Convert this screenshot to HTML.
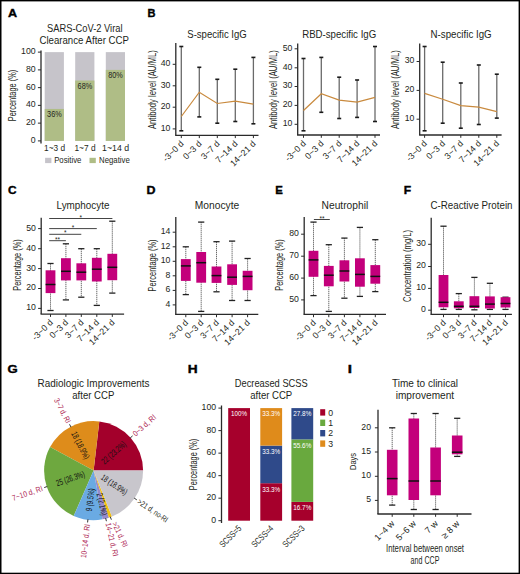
<!DOCTYPE html>
<html><head><meta charset="utf-8"><style>
html,body{margin:0;padding:0;background:#fff;}
svg{display:block;font-family:"Liberation Sans", sans-serif;}
</style></head><body>
<svg width="520" height="574" viewBox="0 0 520 574">
<rect x="0" y="0" width="520" height="574" fill="#fff"/>
<text x="8.00" y="16.90" font-size="10.8" fill="#000" font-weight="bold" textLength="9.1" lengthAdjust="spacingAndGlyphs" stroke="#000" stroke-width="0.35">A</text>
<text x="147.40" y="16.90" font-size="10.8" fill="#000" font-weight="bold" textLength="8" lengthAdjust="spacingAndGlyphs" stroke="#000" stroke-width="0.35">B</text>
<text x="8.10" y="193.80" font-size="10.8" fill="#000" font-weight="bold" textLength="8.6" lengthAdjust="spacingAndGlyphs" stroke="#000" stroke-width="0.35">C</text>
<text x="146.50" y="193.80" font-size="10.8" fill="#000" font-weight="bold" textLength="9" lengthAdjust="spacingAndGlyphs" stroke="#000" stroke-width="0.35">D</text>
<text x="275.30" y="193.80" font-size="10.8" fill="#000" font-weight="bold" textLength="7.6" lengthAdjust="spacingAndGlyphs" stroke="#000" stroke-width="0.35">E</text>
<text x="403.80" y="193.80" font-size="10.8" fill="#000" font-weight="bold" textLength="7.4" lengthAdjust="spacingAndGlyphs" stroke="#000" stroke-width="0.35">F</text>
<text x="7.60" y="372.90" font-size="10.8" fill="#000" font-weight="bold" textLength="10.2" lengthAdjust="spacingAndGlyphs" stroke="#000" stroke-width="0.35">G</text>
<text x="187.80" y="372.90" font-size="10.8" fill="#000" font-weight="bold" textLength="9.9" lengthAdjust="spacingAndGlyphs" stroke="#000" stroke-width="0.35">H</text>
<text x="347.70" y="372.90" font-size="10.8" fill="#000" font-weight="bold" textLength="4.2" lengthAdjust="spacingAndGlyphs" stroke="#000" stroke-width="0.35">I</text>
<text x="84.80" y="31.80" font-size="10.5" fill="#231f20" text-anchor="middle" textLength="75.5" lengthAdjust="spacingAndGlyphs" >SARS-CoV-2 Viral</text>
<text x="84.20" y="44.00" font-size="10.5" fill="#231f20" text-anchor="middle" textLength="89.5" lengthAdjust="spacingAndGlyphs" >Clearance After CCP</text>
<line x1="41.00" y1="50.50" x2="41.00" y2="143.50" stroke="#2a2a2a" stroke-width="1.3" />
<line x1="37.90" y1="140.90" x2="41.00" y2="140.90" stroke="#2a2a2a" stroke-width="1" />
<text x="35.60" y="142.80" font-size="8.7" fill="#231f20" text-anchor="end" >0</text>
<line x1="37.90" y1="123.14" x2="41.00" y2="123.14" stroke="#2a2a2a" stroke-width="1" />
<text x="35.60" y="125.04" font-size="8.7" fill="#231f20" text-anchor="end" >20</text>
<line x1="37.90" y1="105.39" x2="41.00" y2="105.39" stroke="#2a2a2a" stroke-width="1" />
<text x="35.60" y="107.29" font-size="8.7" fill="#231f20" text-anchor="end" >40</text>
<line x1="37.90" y1="87.63" x2="41.00" y2="87.63" stroke="#2a2a2a" stroke-width="1" />
<text x="35.60" y="89.53" font-size="8.7" fill="#231f20" text-anchor="end" >60</text>
<line x1="37.90" y1="69.88" x2="41.00" y2="69.88" stroke="#2a2a2a" stroke-width="1" />
<text x="35.60" y="71.78" font-size="8.7" fill="#231f20" text-anchor="end" >80</text>
<line x1="37.90" y1="52.12" x2="41.00" y2="52.12" stroke="#2a2a2a" stroke-width="1" />
<text x="35.60" y="54.02" font-size="8.7" fill="#231f20" text-anchor="end" >100</text>
<text x="16.00" y="95.50" font-size="10" fill="#231f20" text-anchor="middle" transform="rotate(-90.00 16.00 95.50)" textLength="51.5" lengthAdjust="spacingAndGlyphs" >Percentage (%)</text>
<rect x="44.70" y="52.12" width="19.20" height="88.78" fill="#c6c4ca"/>
<rect x="44.70" y="108.94" width="19.20" height="31.96" fill="#afbd86"/>
<text x="54.40" y="117.04" font-size="9.2" fill="#231f20" text-anchor="middle" textLength="14.6" lengthAdjust="spacingAndGlyphs" >36%</text>
<rect x="75.20" y="52.12" width="19.20" height="88.78" fill="#c6c4ca"/>
<rect x="75.20" y="80.53" width="19.20" height="60.37" fill="#afbd86"/>
<text x="84.90" y="88.63" font-size="9.2" fill="#231f20" text-anchor="middle" textLength="14.6" lengthAdjust="spacingAndGlyphs" >68%</text>
<rect x="105.80" y="52.12" width="19.20" height="88.78" fill="#c6c4ca"/>
<rect x="105.80" y="69.88" width="19.20" height="71.02" fill="#afbd86"/>
<text x="115.50" y="77.98" font-size="9.2" fill="#231f20" text-anchor="middle" textLength="14.6" lengthAdjust="spacingAndGlyphs" >80%</text>
<text x="54.60" y="151.00" font-size="9" fill="#231f20" text-anchor="middle" textLength="21" lengthAdjust="spacingAndGlyphs" >1~3 d</text>
<text x="85.00" y="151.00" font-size="9" fill="#231f20" text-anchor="middle" textLength="21" lengthAdjust="spacingAndGlyphs" >1~7 d</text>
<text x="115.60" y="151.00" font-size="9" fill="#231f20" text-anchor="middle" textLength="27" lengthAdjust="spacingAndGlyphs" >1~14 d</text>
<rect x="45.10" y="157.80" width="6.30" height="5.30" fill="#c6c4ca"/>
<text x="54.20" y="163.40" font-size="8.6" fill="#231f20" textLength="27.2" lengthAdjust="spacingAndGlyphs" >Positive</text>
<rect x="89.50" y="157.80" width="6.30" height="5.30" fill="#afbd86"/>
<text x="99.00" y="163.40" font-size="8.6" fill="#231f20" textLength="30.8" lengthAdjust="spacingAndGlyphs" >Negative</text>
<text x="217.00" y="37.60" font-size="10.5" fill="#231f20" text-anchor="middle" textLength="59.5" lengthAdjust="spacingAndGlyphs" >S-specific IgG</text>
<line x1="175.80" y1="43.10" x2="175.80" y2="135.30" stroke="#2a2a2a" stroke-width="1.3" />
<line x1="175.15" y1="135.30" x2="258.50" y2="135.30" stroke="#2a2a2a" stroke-width="1.3" />
<line x1="172.70" y1="64.30" x2="175.80" y2="64.30" stroke="#2a2a2a" stroke-width="1" />
<text x="170.40" y="66.20" font-size="8.7" fill="#231f20" text-anchor="end" >40</text>
<line x1="172.70" y1="85.80" x2="175.80" y2="85.80" stroke="#2a2a2a" stroke-width="1" />
<text x="170.40" y="87.70" font-size="8.7" fill="#231f20" text-anchor="end" >30</text>
<line x1="172.70" y1="107.20" x2="175.80" y2="107.20" stroke="#2a2a2a" stroke-width="1" />
<text x="170.40" y="109.10" font-size="8.7" fill="#231f20" text-anchor="end" >20</text>
<line x1="172.70" y1="128.90" x2="175.80" y2="128.90" stroke="#2a2a2a" stroke-width="1" />
<text x="170.40" y="130.80" font-size="8.7" fill="#231f20" text-anchor="end" >10</text>
<text x="155.60" y="89.60" font-size="10" fill="#231f20" text-anchor="middle" transform="rotate(-90.00 155.60 89.60)" textLength="79" lengthAdjust="spacingAndGlyphs" >Antibody level (AU/ML)</text>
<line x1="181.30" y1="135.30" x2="181.30" y2="138.10" stroke="#2a2a2a" stroke-width="1" />
<line x1="199.30" y1="135.30" x2="199.30" y2="138.10" stroke="#2a2a2a" stroke-width="1" />
<line x1="217.30" y1="135.30" x2="217.30" y2="138.10" stroke="#2a2a2a" stroke-width="1" />
<line x1="235.30" y1="135.30" x2="235.30" y2="138.10" stroke="#2a2a2a" stroke-width="1" />
<line x1="253.40" y1="135.30" x2="253.40" y2="138.10" stroke="#2a2a2a" stroke-width="1" />
<line x1="181.30" y1="46.50" x2="181.30" y2="130.80" stroke="#6a6a6a" stroke-width="1.3" />
<line x1="179.30" y1="46.50" x2="183.30" y2="46.50" stroke="#1a1a1a" stroke-width="1.6" />
<line x1="179.30" y1="130.80" x2="183.30" y2="130.80" stroke="#1a1a1a" stroke-width="1.6" />
<line x1="199.30" y1="67.30" x2="199.30" y2="116.90" stroke="#6a6a6a" stroke-width="1.3" />
<line x1="197.30" y1="67.30" x2="201.30" y2="67.30" stroke="#1a1a1a" stroke-width="1.6" />
<line x1="197.30" y1="116.90" x2="201.30" y2="116.90" stroke="#1a1a1a" stroke-width="1.6" />
<line x1="217.30" y1="79.30" x2="217.30" y2="123.20" stroke="#6a6a6a" stroke-width="1.3" />
<line x1="215.30" y1="79.30" x2="219.30" y2="79.30" stroke="#1a1a1a" stroke-width="1.6" />
<line x1="215.30" y1="123.20" x2="219.30" y2="123.20" stroke="#1a1a1a" stroke-width="1.6" />
<line x1="235.30" y1="69.20" x2="235.30" y2="121.50" stroke="#6a6a6a" stroke-width="1.3" />
<line x1="233.30" y1="69.20" x2="237.30" y2="69.20" stroke="#1a1a1a" stroke-width="1.6" />
<line x1="233.30" y1="121.50" x2="237.30" y2="121.50" stroke="#1a1a1a" stroke-width="1.6" />
<line x1="253.40" y1="57.40" x2="253.40" y2="123.80" stroke="#6a6a6a" stroke-width="1.3" />
<line x1="251.40" y1="57.40" x2="255.40" y2="57.40" stroke="#1a1a1a" stroke-width="1.6" />
<line x1="251.40" y1="123.80" x2="255.40" y2="123.80" stroke="#1a1a1a" stroke-width="1.6" />
<polyline points="181.3,116.5 199.3,92.2 217.3,103.5 235.3,101.2 253.4,104.2" fill="none" stroke="#c98a3e" stroke-width="1.2"/>
<text x="184.20" y="144.30" font-size="8.8" fill="#231f20" text-anchor="end" transform="rotate(-45.00 184.20 144.30)" >-3~0 d</text>
<text x="202.20" y="144.30" font-size="8.8" fill="#231f20" text-anchor="end" transform="rotate(-45.00 202.20 144.30)" >0~3 d</text>
<text x="220.20" y="144.30" font-size="8.8" fill="#231f20" text-anchor="end" transform="rotate(-45.00 220.20 144.30)" >3~7 d</text>
<text x="238.20" y="144.30" font-size="8.8" fill="#231f20" text-anchor="end" transform="rotate(-45.00 238.20 144.30)" >7~14 d</text>
<text x="256.30" y="144.30" font-size="8.8" fill="#231f20" text-anchor="end" transform="rotate(-45.00 256.30 144.30)" >14~21 d</text>
<text x="339.20" y="37.60" font-size="10.5" fill="#231f20" text-anchor="middle" textLength="74" lengthAdjust="spacingAndGlyphs" >RBD-specific IgG</text>
<line x1="297.70" y1="43.50" x2="297.70" y2="135.00" stroke="#2a2a2a" stroke-width="1.3" />
<line x1="297.05" y1="135.00" x2="380.00" y2="135.00" stroke="#2a2a2a" stroke-width="1.3" />
<line x1="294.60" y1="48.80" x2="297.70" y2="48.80" stroke="#2a2a2a" stroke-width="1" />
<text x="292.30" y="50.70" font-size="8.7" fill="#231f20" text-anchor="end" >50</text>
<line x1="294.60" y1="67.80" x2="297.70" y2="67.80" stroke="#2a2a2a" stroke-width="1" />
<text x="292.30" y="69.70" font-size="8.7" fill="#231f20" text-anchor="end" >40</text>
<line x1="294.60" y1="86.50" x2="297.70" y2="86.50" stroke="#2a2a2a" stroke-width="1" />
<text x="292.30" y="88.40" font-size="8.7" fill="#231f20" text-anchor="end" >30</text>
<line x1="294.60" y1="105.40" x2="297.70" y2="105.40" stroke="#2a2a2a" stroke-width="1" />
<text x="292.30" y="107.30" font-size="8.7" fill="#231f20" text-anchor="end" >20</text>
<line x1="294.60" y1="124.30" x2="297.70" y2="124.30" stroke="#2a2a2a" stroke-width="1" />
<text x="292.30" y="126.20" font-size="8.7" fill="#231f20" text-anchor="end" >10</text>
<text x="277.50" y="89.60" font-size="10" fill="#231f20" text-anchor="middle" transform="rotate(-90.00 277.50 89.60)" textLength="79" lengthAdjust="spacingAndGlyphs" >Antibody level (AU/ML)</text>
<line x1="303.50" y1="135.00" x2="303.50" y2="137.80" stroke="#2a2a2a" stroke-width="1" />
<line x1="321.30" y1="135.00" x2="321.30" y2="137.80" stroke="#2a2a2a" stroke-width="1" />
<line x1="339.20" y1="135.00" x2="339.20" y2="137.80" stroke="#2a2a2a" stroke-width="1" />
<line x1="357.10" y1="135.00" x2="357.10" y2="137.80" stroke="#2a2a2a" stroke-width="1" />
<line x1="375.00" y1="135.00" x2="375.00" y2="137.80" stroke="#2a2a2a" stroke-width="1" />
<line x1="303.50" y1="58.50" x2="303.50" y2="130.80" stroke="#6a6a6a" stroke-width="1.3" />
<line x1="301.50" y1="58.50" x2="305.50" y2="58.50" stroke="#1a1a1a" stroke-width="1.6" />
<line x1="301.50" y1="130.80" x2="305.50" y2="130.80" stroke="#1a1a1a" stroke-width="1.6" />
<line x1="321.30" y1="57.40" x2="321.30" y2="112.30" stroke="#6a6a6a" stroke-width="1.3" />
<line x1="319.30" y1="57.40" x2="323.30" y2="57.40" stroke="#1a1a1a" stroke-width="1.6" />
<line x1="319.30" y1="112.30" x2="323.30" y2="112.30" stroke="#1a1a1a" stroke-width="1.6" />
<line x1="339.20" y1="77.20" x2="339.20" y2="118.50" stroke="#6a6a6a" stroke-width="1.3" />
<line x1="337.20" y1="77.20" x2="341.20" y2="77.20" stroke="#1a1a1a" stroke-width="1.6" />
<line x1="337.20" y1="118.50" x2="341.20" y2="118.50" stroke="#1a1a1a" stroke-width="1.6" />
<line x1="357.10" y1="80.00" x2="357.10" y2="117.40" stroke="#6a6a6a" stroke-width="1.3" />
<line x1="355.10" y1="80.00" x2="359.10" y2="80.00" stroke="#1a1a1a" stroke-width="1.6" />
<line x1="355.10" y1="117.40" x2="359.10" y2="117.40" stroke="#1a1a1a" stroke-width="1.6" />
<line x1="375.00" y1="46.50" x2="375.00" y2="121.50" stroke="#6a6a6a" stroke-width="1.3" />
<line x1="373.00" y1="46.50" x2="377.00" y2="46.50" stroke="#1a1a1a" stroke-width="1.6" />
<line x1="373.00" y1="121.50" x2="377.00" y2="121.50" stroke="#1a1a1a" stroke-width="1.6" />
<polyline points="303.5,110.5 321.3,93.8 339.2,100.1 357.1,102.2 375.0,97.3" fill="none" stroke="#c98a3e" stroke-width="1.2"/>
<text x="306.40" y="144.00" font-size="8.8" fill="#231f20" text-anchor="end" transform="rotate(-45.00 306.40 144.00)" >-3~0 d</text>
<text x="324.20" y="144.00" font-size="8.8" fill="#231f20" text-anchor="end" transform="rotate(-45.00 324.20 144.00)" >0~3 d</text>
<text x="342.10" y="144.00" font-size="8.8" fill="#231f20" text-anchor="end" transform="rotate(-45.00 342.10 144.00)" >3~7 d</text>
<text x="360.00" y="144.00" font-size="8.8" fill="#231f20" text-anchor="end" transform="rotate(-45.00 360.00 144.00)" >7~14 d</text>
<text x="377.90" y="144.00" font-size="8.8" fill="#231f20" text-anchor="end" transform="rotate(-45.00 377.90 144.00)" >14~21 d</text>
<text x="461.10" y="37.60" font-size="10.5" fill="#231f20" text-anchor="middle" textLength="61" lengthAdjust="spacingAndGlyphs" >N-specific IgG</text>
<line x1="419.70" y1="43.50" x2="419.70" y2="135.00" stroke="#2a2a2a" stroke-width="1.3" />
<line x1="419.05" y1="135.00" x2="501.60" y2="135.00" stroke="#2a2a2a" stroke-width="1.3" />
<line x1="416.60" y1="61.50" x2="419.70" y2="61.50" stroke="#2a2a2a" stroke-width="1" />
<text x="414.30" y="63.40" font-size="8.7" fill="#231f20" text-anchor="end" >30</text>
<line x1="416.60" y1="90.40" x2="419.70" y2="90.40" stroke="#2a2a2a" stroke-width="1" />
<text x="414.30" y="92.30" font-size="8.7" fill="#231f20" text-anchor="end" >20</text>
<line x1="416.60" y1="119.20" x2="419.70" y2="119.20" stroke="#2a2a2a" stroke-width="1" />
<text x="414.30" y="121.10" font-size="8.7" fill="#231f20" text-anchor="end" >10</text>
<text x="399.50" y="89.60" font-size="10" fill="#231f20" text-anchor="middle" transform="rotate(-90.00 399.50 89.60)" textLength="79" lengthAdjust="spacingAndGlyphs" >Antibody level (AU/ML)</text>
<line x1="424.60" y1="135.00" x2="424.60" y2="137.80" stroke="#2a2a2a" stroke-width="1" />
<line x1="442.70" y1="135.00" x2="442.70" y2="137.80" stroke="#2a2a2a" stroke-width="1" />
<line x1="460.80" y1="135.00" x2="460.80" y2="137.80" stroke="#2a2a2a" stroke-width="1" />
<line x1="478.80" y1="135.00" x2="478.80" y2="137.80" stroke="#2a2a2a" stroke-width="1" />
<line x1="496.80" y1="135.00" x2="496.80" y2="137.80" stroke="#2a2a2a" stroke-width="1" />
<line x1="424.60" y1="46.50" x2="424.60" y2="130.80" stroke="#6a6a6a" stroke-width="1.3" />
<line x1="422.60" y1="46.50" x2="426.60" y2="46.50" stroke="#1a1a1a" stroke-width="1.6" />
<line x1="422.60" y1="130.80" x2="426.60" y2="130.80" stroke="#1a1a1a" stroke-width="1.6" />
<line x1="442.70" y1="62.20" x2="442.70" y2="123.20" stroke="#6a6a6a" stroke-width="1.3" />
<line x1="440.70" y1="62.20" x2="444.70" y2="62.20" stroke="#1a1a1a" stroke-width="1.6" />
<line x1="440.70" y1="123.20" x2="444.70" y2="123.20" stroke="#1a1a1a" stroke-width="1.6" />
<line x1="460.80" y1="83.00" x2="460.80" y2="128.20" stroke="#6a6a6a" stroke-width="1.3" />
<line x1="458.80" y1="83.00" x2="462.80" y2="83.00" stroke="#1a1a1a" stroke-width="1.6" />
<line x1="458.80" y1="128.20" x2="462.80" y2="128.20" stroke="#1a1a1a" stroke-width="1.6" />
<line x1="478.80" y1="65.00" x2="478.80" y2="124.50" stroke="#6a6a6a" stroke-width="1.3" />
<line x1="476.80" y1="65.00" x2="480.80" y2="65.00" stroke="#1a1a1a" stroke-width="1.6" />
<line x1="476.80" y1="124.50" x2="480.80" y2="124.50" stroke="#1a1a1a" stroke-width="1.6" />
<line x1="496.80" y1="74.20" x2="496.80" y2="118.10" stroke="#6a6a6a" stroke-width="1.3" />
<line x1="494.80" y1="74.20" x2="498.80" y2="74.20" stroke="#1a1a1a" stroke-width="1.6" />
<line x1="494.80" y1="118.10" x2="498.80" y2="118.10" stroke="#1a1a1a" stroke-width="1.6" />
<polyline points="424.6,93.4 442.7,99.2 460.8,105.6 478.8,107.2 496.8,111.6" fill="none" stroke="#c98a3e" stroke-width="1.2"/>
<text x="427.50" y="144.00" font-size="8.8" fill="#231f20" text-anchor="end" transform="rotate(-45.00 427.50 144.00)" >-3~0 d</text>
<text x="445.60" y="144.00" font-size="8.8" fill="#231f20" text-anchor="end" transform="rotate(-45.00 445.60 144.00)" >0~3 d</text>
<text x="463.70" y="144.00" font-size="8.8" fill="#231f20" text-anchor="end" transform="rotate(-45.00 463.70 144.00)" >3~7 d</text>
<text x="481.70" y="144.00" font-size="8.8" fill="#231f20" text-anchor="end" transform="rotate(-45.00 481.70 144.00)" >7~14 d</text>
<text x="499.70" y="144.00" font-size="8.8" fill="#231f20" text-anchor="end" transform="rotate(-45.00 499.70 144.00)" >14~21 d</text>
<text x="83.00" y="208.80" font-size="10.5" fill="#231f20" text-anchor="middle" textLength="52.9" lengthAdjust="spacingAndGlyphs" >Lymphocyte</text>
<line x1="41.20" y1="217.80" x2="41.20" y2="314.10" stroke="#2a2a2a" stroke-width="1.3" />
<line x1="40.55" y1="314.10" x2="124.10" y2="314.10" stroke="#2a2a2a" stroke-width="1.3" />
<line x1="38.10" y1="228.60" x2="41.20" y2="228.60" stroke="#2a2a2a" stroke-width="1" />
<text x="35.80" y="230.50" font-size="8.7" fill="#231f20" text-anchor="end" >50</text>
<line x1="38.10" y1="248.70" x2="41.20" y2="248.70" stroke="#2a2a2a" stroke-width="1" />
<text x="35.80" y="250.60" font-size="8.7" fill="#231f20" text-anchor="end" >40</text>
<line x1="38.10" y1="268.60" x2="41.20" y2="268.60" stroke="#2a2a2a" stroke-width="1" />
<text x="35.80" y="270.50" font-size="8.7" fill="#231f20" text-anchor="end" >30</text>
<line x1="38.10" y1="288.50" x2="41.20" y2="288.50" stroke="#2a2a2a" stroke-width="1" />
<text x="35.80" y="290.40" font-size="8.7" fill="#231f20" text-anchor="end" >20</text>
<line x1="38.10" y1="308.40" x2="41.20" y2="308.40" stroke="#2a2a2a" stroke-width="1" />
<text x="35.80" y="310.30" font-size="8.7" fill="#231f20" text-anchor="end" >10</text>
<text x="21.30" y="265.00" font-size="10" fill="#231f20" text-anchor="middle" transform="rotate(-90.00 21.30 265.00)" textLength="51.4" lengthAdjust="spacingAndGlyphs" >Percentage (%)</text>
<line x1="50.50" y1="314.10" x2="50.50" y2="316.90" stroke="#2a2a2a" stroke-width="1" />
<line x1="65.90" y1="314.10" x2="65.90" y2="316.90" stroke="#2a2a2a" stroke-width="1" />
<line x1="81.30" y1="314.10" x2="81.30" y2="316.90" stroke="#2a2a2a" stroke-width="1" />
<line x1="96.80" y1="314.10" x2="96.80" y2="316.90" stroke="#2a2a2a" stroke-width="1" />
<line x1="112.30" y1="314.10" x2="112.30" y2="316.90" stroke="#2a2a2a" stroke-width="1" />
<line x1="50.50" y1="263.50" x2="50.50" y2="310.50" stroke="#5a5a5a" stroke-width="0.9" stroke-dasharray="1.3,0.7"/>
<line x1="47.40" y1="263.50" x2="53.60" y2="263.50" stroke="#222" stroke-width="1.3" />
<line x1="47.40" y1="310.50" x2="53.60" y2="310.50" stroke="#222" stroke-width="1.3" />
<rect x="45.60" y="270.30" width="9.80" height="22.80" fill="#c3007b"/>
<line x1="45.60" y1="284.50" x2="55.40" y2="284.50" stroke="#111" stroke-width="1.5" />
<line x1="65.90" y1="243.80" x2="65.90" y2="299.90" stroke="#5a5a5a" stroke-width="0.9" stroke-dasharray="1.3,0.7"/>
<line x1="62.80" y1="243.80" x2="69.00" y2="243.80" stroke="#222" stroke-width="1.3" />
<line x1="62.80" y1="299.90" x2="69.00" y2="299.90" stroke="#222" stroke-width="1.3" />
<rect x="61.00" y="258.20" width="9.80" height="22.20" fill="#c3007b"/>
<line x1="61.00" y1="271.30" x2="70.80" y2="271.30" stroke="#111" stroke-width="1.5" />
<line x1="81.30" y1="248.70" x2="81.30" y2="297.20" stroke="#5a5a5a" stroke-width="0.9" stroke-dasharray="1.3,0.7"/>
<line x1="78.20" y1="248.70" x2="84.40" y2="248.70" stroke="#222" stroke-width="1.3" />
<line x1="78.20" y1="297.20" x2="84.40" y2="297.20" stroke="#222" stroke-width="1.3" />
<rect x="76.40" y="263.30" width="9.80" height="17.10" fill="#c3007b"/>
<line x1="76.40" y1="272.20" x2="86.20" y2="272.20" stroke="#111" stroke-width="1.5" />
<line x1="96.80" y1="248.70" x2="96.80" y2="305.40" stroke="#5a5a5a" stroke-width="0.9" stroke-dasharray="1.3,0.7"/>
<line x1="93.70" y1="248.70" x2="99.90" y2="248.70" stroke="#222" stroke-width="1.3" />
<line x1="93.70" y1="305.40" x2="99.90" y2="305.40" stroke="#222" stroke-width="1.3" />
<rect x="91.90" y="257.80" width="9.80" height="23.70" fill="#c3007b"/>
<line x1="91.90" y1="269.20" x2="101.70" y2="269.20" stroke="#111" stroke-width="1.5" />
<line x1="112.30" y1="221.20" x2="112.30" y2="293.10" stroke="#5a5a5a" stroke-width="0.9" stroke-dasharray="1.3,0.7"/>
<line x1="109.20" y1="221.20" x2="115.40" y2="221.20" stroke="#222" stroke-width="1.3" />
<line x1="109.20" y1="293.10" x2="115.40" y2="293.10" stroke="#222" stroke-width="1.3" />
<rect x="107.40" y="253.80" width="9.80" height="26.40" fill="#c3007b"/>
<line x1="107.40" y1="267.30" x2="117.20" y2="267.30" stroke="#111" stroke-width="1.5" />
<text x="53.40" y="323.10" font-size="8.8" fill="#231f20" text-anchor="end" transform="rotate(-45.00 53.40 323.10)" >-3~0 d</text>
<text x="68.80" y="323.10" font-size="8.8" fill="#231f20" text-anchor="end" transform="rotate(-45.00 68.80 323.10)" >0~3 d</text>
<text x="84.20" y="323.10" font-size="8.8" fill="#231f20" text-anchor="end" transform="rotate(-45.00 84.20 323.10)" >3~7 d</text>
<text x="99.70" y="323.10" font-size="8.8" fill="#231f20" text-anchor="end" transform="rotate(-45.00 99.70 323.10)" >7~14 d</text>
<text x="115.20" y="323.10" font-size="8.8" fill="#231f20" text-anchor="end" transform="rotate(-45.00 115.20 323.10)" >14~21 d</text>
<line x1="49.20" y1="240.70" x2="65.90" y2="240.70" stroke="#444" stroke-width="1" />
<text x="57.55" y="241.80" font-size="6.5" fill="#231f20" text-anchor="middle" >**</text>
<line x1="49.20" y1="234.30" x2="81.30" y2="234.30" stroke="#444" stroke-width="1" />
<text x="65.25" y="235.40" font-size="6.5" fill="#231f20" text-anchor="middle" >*</text>
<line x1="49.20" y1="228.60" x2="96.80" y2="228.60" stroke="#444" stroke-width="1" />
<text x="73.00" y="229.70" font-size="6.5" fill="#231f20" text-anchor="middle" >*</text>
<line x1="49.20" y1="218.50" x2="112.40" y2="218.50" stroke="#444" stroke-width="1" />
<text x="80.80" y="219.60" font-size="6.5" fill="#231f20" text-anchor="middle" >*</text>
<text x="217.00" y="208.80" font-size="10.5" fill="#231f20" text-anchor="middle" textLength="44.4" lengthAdjust="spacingAndGlyphs" >Monocyte</text>
<line x1="175.80" y1="217.10" x2="175.80" y2="314.40" stroke="#2a2a2a" stroke-width="1.3" />
<line x1="175.15" y1="314.40" x2="258.30" y2="314.40" stroke="#2a2a2a" stroke-width="1.3" />
<line x1="172.70" y1="232.20" x2="175.80" y2="232.20" stroke="#2a2a2a" stroke-width="1" />
<text x="170.40" y="234.10" font-size="8.7" fill="#231f20" text-anchor="end" >14</text>
<line x1="172.70" y1="246.80" x2="175.80" y2="246.80" stroke="#2a2a2a" stroke-width="1" />
<text x="170.40" y="248.70" font-size="8.7" fill="#231f20" text-anchor="end" >12</text>
<line x1="172.70" y1="261.30" x2="175.80" y2="261.30" stroke="#2a2a2a" stroke-width="1" />
<text x="170.40" y="263.20" font-size="8.7" fill="#231f20" text-anchor="end" >10</text>
<line x1="172.70" y1="275.80" x2="175.80" y2="275.80" stroke="#2a2a2a" stroke-width="1" />
<text x="170.40" y="277.70" font-size="8.7" fill="#231f20" text-anchor="end" >8</text>
<line x1="172.70" y1="290.40" x2="175.80" y2="290.40" stroke="#2a2a2a" stroke-width="1" />
<text x="170.40" y="292.30" font-size="8.7" fill="#231f20" text-anchor="end" >6</text>
<line x1="172.70" y1="304.90" x2="175.80" y2="304.90" stroke="#2a2a2a" stroke-width="1" />
<text x="170.40" y="306.80" font-size="8.7" fill="#231f20" text-anchor="end" >4</text>
<text x="155.60" y="265.40" font-size="10" fill="#231f20" text-anchor="middle" transform="rotate(-90.00 155.60 265.40)" textLength="52" lengthAdjust="spacingAndGlyphs" >Percentage (%)</text>
<line x1="185.80" y1="314.40" x2="185.80" y2="317.20" stroke="#2a2a2a" stroke-width="1" />
<line x1="201.20" y1="314.40" x2="201.20" y2="317.20" stroke="#2a2a2a" stroke-width="1" />
<line x1="216.50" y1="314.40" x2="216.50" y2="317.20" stroke="#2a2a2a" stroke-width="1" />
<line x1="232.10" y1="314.40" x2="232.10" y2="317.20" stroke="#2a2a2a" stroke-width="1" />
<line x1="247.60" y1="314.40" x2="247.60" y2="317.20" stroke="#2a2a2a" stroke-width="1" />
<line x1="185.80" y1="246.80" x2="185.80" y2="294.60" stroke="#5a5a5a" stroke-width="0.9" stroke-dasharray="1.3,0.7"/>
<line x1="182.70" y1="246.80" x2="188.90" y2="246.80" stroke="#222" stroke-width="1.3" />
<line x1="182.70" y1="294.60" x2="188.90" y2="294.60" stroke="#222" stroke-width="1.3" />
<rect x="180.90" y="259.10" width="9.80" height="21.80" fill="#c3007b"/>
<line x1="180.90" y1="265.90" x2="190.70" y2="265.90" stroke="#111" stroke-width="1.5" />
<line x1="201.20" y1="222.10" x2="201.20" y2="311.40" stroke="#5a5a5a" stroke-width="0.9" stroke-dasharray="1.3,0.7"/>
<line x1="198.10" y1="222.10" x2="204.30" y2="222.10" stroke="#222" stroke-width="1.3" />
<line x1="198.10" y1="311.40" x2="204.30" y2="311.40" stroke="#222" stroke-width="1.3" />
<rect x="196.30" y="252.00" width="9.80" height="30.70" fill="#c3007b"/>
<line x1="196.30" y1="262.70" x2="206.10" y2="262.70" stroke="#111" stroke-width="1.5" />
<line x1="216.50" y1="241.70" x2="216.50" y2="291.80" stroke="#5a5a5a" stroke-width="0.9" stroke-dasharray="1.3,0.7"/>
<line x1="213.40" y1="241.70" x2="219.60" y2="241.70" stroke="#222" stroke-width="1.3" />
<line x1="213.40" y1="291.80" x2="219.60" y2="291.80" stroke="#222" stroke-width="1.3" />
<rect x="211.60" y="266.50" width="9.80" height="16.40" fill="#c3007b"/>
<line x1="211.60" y1="275.60" x2="221.40" y2="275.60" stroke="#111" stroke-width="1.5" />
<line x1="232.10" y1="241.10" x2="232.10" y2="300.50" stroke="#5a5a5a" stroke-width="0.9" stroke-dasharray="1.3,0.7"/>
<line x1="229.00" y1="241.10" x2="235.20" y2="241.10" stroke="#222" stroke-width="1.3" />
<line x1="229.00" y1="300.50" x2="235.20" y2="300.50" stroke="#222" stroke-width="1.3" />
<rect x="227.20" y="264.30" width="9.80" height="20.60" fill="#c3007b"/>
<line x1="227.20" y1="277.20" x2="237.00" y2="277.20" stroke="#111" stroke-width="1.5" />
<line x1="247.60" y1="258.50" x2="247.60" y2="300.50" stroke="#5a5a5a" stroke-width="0.9" stroke-dasharray="1.3,0.7"/>
<line x1="244.50" y1="258.50" x2="250.70" y2="258.50" stroke="#222" stroke-width="1.3" />
<line x1="244.50" y1="300.50" x2="250.70" y2="300.50" stroke="#222" stroke-width="1.3" />
<rect x="242.70" y="270.80" width="9.80" height="19.40" fill="#c3007b"/>
<line x1="242.70" y1="276.40" x2="252.50" y2="276.40" stroke="#111" stroke-width="1.5" />
<text x="188.70" y="323.40" font-size="8.8" fill="#231f20" text-anchor="end" transform="rotate(-45.00 188.70 323.40)" >-3~0 d</text>
<text x="204.10" y="323.40" font-size="8.8" fill="#231f20" text-anchor="end" transform="rotate(-45.00 204.10 323.40)" >0~3 d</text>
<text x="219.40" y="323.40" font-size="8.8" fill="#231f20" text-anchor="end" transform="rotate(-45.00 219.40 323.40)" >3~7 d</text>
<text x="235.00" y="323.40" font-size="8.8" fill="#231f20" text-anchor="end" transform="rotate(-45.00 235.00 323.40)" >7~14 d</text>
<text x="250.50" y="323.40" font-size="8.8" fill="#231f20" text-anchor="end" transform="rotate(-45.00 250.50 323.40)" >14~21 d</text>
<text x="344.90" y="208.80" font-size="10.5" fill="#231f20" text-anchor="middle" textLength="46.6" lengthAdjust="spacingAndGlyphs" >Neutrophil</text>
<line x1="304.20" y1="217.10" x2="304.20" y2="314.40" stroke="#2a2a2a" stroke-width="1.3" />
<line x1="303.55" y1="314.40" x2="386.00" y2="314.40" stroke="#2a2a2a" stroke-width="1.3" />
<line x1="301.10" y1="234.20" x2="304.20" y2="234.20" stroke="#2a2a2a" stroke-width="1" />
<text x="298.80" y="236.10" font-size="8.7" fill="#231f20" text-anchor="end" >80</text>
<line x1="301.10" y1="256.20" x2="304.20" y2="256.20" stroke="#2a2a2a" stroke-width="1" />
<text x="298.80" y="258.10" font-size="8.7" fill="#231f20" text-anchor="end" >70</text>
<line x1="301.10" y1="278.10" x2="304.20" y2="278.10" stroke="#2a2a2a" stroke-width="1" />
<text x="298.80" y="280.00" font-size="8.7" fill="#231f20" text-anchor="end" >60</text>
<line x1="301.10" y1="299.90" x2="304.20" y2="299.90" stroke="#2a2a2a" stroke-width="1" />
<text x="298.80" y="301.80" font-size="8.7" fill="#231f20" text-anchor="end" >50</text>
<text x="283.00" y="265.00" font-size="10" fill="#231f20" text-anchor="middle" transform="rotate(-90.00 283.00 265.00)" textLength="51.5" lengthAdjust="spacingAndGlyphs" >Percentage (%)</text>
<line x1="313.50" y1="314.40" x2="313.50" y2="317.20" stroke="#2a2a2a" stroke-width="1" />
<line x1="328.80" y1="314.40" x2="328.80" y2="317.20" stroke="#2a2a2a" stroke-width="1" />
<line x1="344.40" y1="314.40" x2="344.40" y2="317.20" stroke="#2a2a2a" stroke-width="1" />
<line x1="359.90" y1="314.40" x2="359.90" y2="317.20" stroke="#2a2a2a" stroke-width="1" />
<line x1="375.30" y1="314.40" x2="375.30" y2="317.20" stroke="#2a2a2a" stroke-width="1" />
<line x1="313.50" y1="222.10" x2="313.50" y2="295.60" stroke="#5a5a5a" stroke-width="0.9" stroke-dasharray="1.3,0.7"/>
<line x1="310.40" y1="222.10" x2="316.60" y2="222.10" stroke="#222" stroke-width="1.3" />
<line x1="310.40" y1="295.60" x2="316.60" y2="295.60" stroke="#222" stroke-width="1.3" />
<rect x="308.60" y="250.80" width="9.80" height="26.00" fill="#c3007b"/>
<line x1="308.60" y1="259.90" x2="318.40" y2="259.90" stroke="#111" stroke-width="1.5" />
<line x1="328.80" y1="244.70" x2="328.80" y2="311.40" stroke="#5a5a5a" stroke-width="0.9" stroke-dasharray="1.3,0.7"/>
<line x1="325.70" y1="244.70" x2="331.90" y2="244.70" stroke="#222" stroke-width="1.3" />
<line x1="325.70" y1="311.40" x2="331.90" y2="311.40" stroke="#222" stroke-width="1.3" />
<rect x="323.90" y="265.90" width="9.80" height="20.40" fill="#c3007b"/>
<line x1="323.90" y1="275.20" x2="333.70" y2="275.20" stroke="#111" stroke-width="1.5" />
<line x1="344.40" y1="238.10" x2="344.40" y2="298.20" stroke="#5a5a5a" stroke-width="0.9" stroke-dasharray="1.3,0.7"/>
<line x1="341.30" y1="238.10" x2="347.50" y2="238.10" stroke="#222" stroke-width="1.3" />
<line x1="341.30" y1="298.20" x2="347.50" y2="298.20" stroke="#222" stroke-width="1.3" />
<rect x="339.50" y="260.30" width="9.80" height="21.20" fill="#c3007b"/>
<line x1="339.50" y1="271.00" x2="349.30" y2="271.00" stroke="#111" stroke-width="1.5" />
<line x1="359.90" y1="227.40" x2="359.90" y2="296.40" stroke="#5a5a5a" stroke-width="0.9" stroke-dasharray="1.3,0.7"/>
<line x1="356.80" y1="227.40" x2="363.00" y2="227.40" stroke="#222" stroke-width="1.3" />
<line x1="356.80" y1="296.40" x2="363.00" y2="296.40" stroke="#222" stroke-width="1.3" />
<rect x="355.00" y="258.30" width="9.80" height="28.40" fill="#c3007b"/>
<line x1="355.00" y1="274.40" x2="364.80" y2="274.40" stroke="#111" stroke-width="1.5" />
<line x1="375.30" y1="239.70" x2="375.30" y2="291.60" stroke="#5a5a5a" stroke-width="0.9" stroke-dasharray="1.3,0.7"/>
<line x1="372.20" y1="239.70" x2="378.40" y2="239.70" stroke="#222" stroke-width="1.3" />
<line x1="372.20" y1="291.60" x2="378.40" y2="291.60" stroke="#222" stroke-width="1.3" />
<rect x="370.40" y="265.10" width="9.80" height="18.60" fill="#c3007b"/>
<line x1="370.40" y1="276.40" x2="380.20" y2="276.40" stroke="#111" stroke-width="1.5" />
<text x="316.40" y="323.40" font-size="8.8" fill="#231f20" text-anchor="end" transform="rotate(-45.00 316.40 323.40)" >-3~0 d</text>
<text x="331.70" y="323.40" font-size="8.8" fill="#231f20" text-anchor="end" transform="rotate(-45.00 331.70 323.40)" >0~3 d</text>
<text x="347.30" y="323.40" font-size="8.8" fill="#231f20" text-anchor="end" transform="rotate(-45.00 347.30 323.40)" >3~7 d</text>
<text x="362.80" y="323.40" font-size="8.8" fill="#231f20" text-anchor="end" transform="rotate(-45.00 362.80 323.40)" >7~14 d</text>
<text x="378.20" y="323.40" font-size="8.8" fill="#231f20" text-anchor="end" transform="rotate(-45.00 378.20 323.40)" >14~21 d</text>
<line x1="313.90" y1="219.50" x2="329.80" y2="219.50" stroke="#444" stroke-width="1" />
<text x="322.00" y="220.60" font-size="6.5" fill="#231f20" text-anchor="middle" >**</text>
<text x="471.50" y="208.80" font-size="10.5" fill="#231f20" text-anchor="middle" textLength="82" lengthAdjust="spacingAndGlyphs" >C-Reactive Protein</text>
<line x1="431.20" y1="217.70" x2="431.20" y2="314.40" stroke="#2a2a2a" stroke-width="1.3" />
<line x1="430.55" y1="314.40" x2="511.90" y2="314.40" stroke="#2a2a2a" stroke-width="1.3" />
<line x1="428.10" y1="244.30" x2="431.20" y2="244.30" stroke="#2a2a2a" stroke-width="1" />
<text x="425.80" y="246.20" font-size="8.7" fill="#231f20" text-anchor="end" >30</text>
<line x1="428.10" y1="266.50" x2="431.20" y2="266.50" stroke="#2a2a2a" stroke-width="1" />
<text x="425.80" y="268.40" font-size="8.7" fill="#231f20" text-anchor="end" >20</text>
<line x1="428.10" y1="288.40" x2="431.20" y2="288.40" stroke="#2a2a2a" stroke-width="1" />
<text x="425.80" y="290.30" font-size="8.7" fill="#231f20" text-anchor="end" >10</text>
<line x1="428.10" y1="310.20" x2="431.20" y2="310.20" stroke="#2a2a2a" stroke-width="1" />
<text x="425.80" y="312.10" font-size="8.7" fill="#231f20" text-anchor="end" >0</text>
<text x="410.60" y="265.90" font-size="10" fill="#231f20" text-anchor="middle" transform="rotate(-90.00 410.60 265.90)" textLength="72" lengthAdjust="spacingAndGlyphs" >Concentration (mg/L)</text>
<line x1="443.50" y1="314.40" x2="443.50" y2="317.20" stroke="#2a2a2a" stroke-width="1" />
<line x1="458.80" y1="314.40" x2="458.80" y2="317.20" stroke="#2a2a2a" stroke-width="1" />
<line x1="474.40" y1="314.40" x2="474.40" y2="317.20" stroke="#2a2a2a" stroke-width="1" />
<line x1="489.90" y1="314.40" x2="489.90" y2="317.20" stroke="#2a2a2a" stroke-width="1" />
<line x1="505.50" y1="314.40" x2="505.50" y2="317.20" stroke="#2a2a2a" stroke-width="1" />
<line x1="443.50" y1="226.20" x2="443.50" y2="309.40" stroke="#5a5a5a" stroke-width="0.9" stroke-dasharray="1.3,0.7"/>
<line x1="440.40" y1="226.20" x2="446.60" y2="226.20" stroke="#222" stroke-width="1.3" />
<line x1="440.40" y1="309.40" x2="446.60" y2="309.40" stroke="#222" stroke-width="1.3" />
<rect x="438.60" y="275.00" width="9.80" height="32.30" fill="#c3007b"/>
<line x1="438.60" y1="302.30" x2="448.40" y2="302.30" stroke="#111" stroke-width="1.5" />
<line x1="458.80" y1="293.60" x2="458.80" y2="309.40" stroke="#5a5a5a" stroke-width="0.9" stroke-dasharray="1.3,0.7"/>
<line x1="455.70" y1="293.60" x2="461.90" y2="293.60" stroke="#222" stroke-width="1.3" />
<line x1="455.70" y1="309.40" x2="461.90" y2="309.40" stroke="#222" stroke-width="1.3" />
<rect x="453.90" y="301.30" width="9.80" height="7.00" fill="#c3007b"/>
<line x1="453.90" y1="306.30" x2="463.70" y2="306.30" stroke="#111" stroke-width="1.5" />
<line x1="474.40" y1="277.40" x2="474.40" y2="309.80" stroke="#5a5a5a" stroke-width="0.9" stroke-dasharray="1.3,0.7"/>
<line x1="471.30" y1="277.40" x2="477.50" y2="277.40" stroke="#222" stroke-width="1.3" />
<line x1="471.30" y1="309.80" x2="477.50" y2="309.80" stroke="#222" stroke-width="1.3" />
<rect x="469.50" y="296.20" width="9.80" height="11.80" fill="#c3007b"/>
<line x1="469.50" y1="306.30" x2="479.30" y2="306.30" stroke="#111" stroke-width="1.5" />
<line x1="489.90" y1="283.30" x2="489.90" y2="309.40" stroke="#5a5a5a" stroke-width="0.9" stroke-dasharray="1.3,0.7"/>
<line x1="486.80" y1="283.30" x2="493.00" y2="283.30" stroke="#222" stroke-width="1.3" />
<line x1="486.80" y1="309.40" x2="493.00" y2="309.40" stroke="#222" stroke-width="1.3" />
<rect x="485.00" y="296.40" width="9.80" height="12.10" fill="#c3007b"/>
<line x1="485.00" y1="304.10" x2="494.80" y2="304.10" stroke="#111" stroke-width="1.5" />
<line x1="505.50" y1="297.20" x2="505.50" y2="309.40" stroke="#5a5a5a" stroke-width="0.9" stroke-dasharray="1.3,0.7"/>
<line x1="502.40" y1="297.20" x2="508.60" y2="297.20" stroke="#222" stroke-width="1.3" />
<line x1="502.40" y1="309.40" x2="508.60" y2="309.40" stroke="#222" stroke-width="1.3" />
<rect x="500.60" y="297.20" width="9.80" height="10.30" fill="#c3007b"/>
<line x1="500.60" y1="303.50" x2="510.40" y2="303.50" stroke="#111" stroke-width="1.5" />
<text x="446.40" y="323.40" font-size="8.8" fill="#231f20" text-anchor="end" transform="rotate(-45.00 446.40 323.40)" >-3~0 d</text>
<text x="461.70" y="323.40" font-size="8.8" fill="#231f20" text-anchor="end" transform="rotate(-45.00 461.70 323.40)" >0~3 d</text>
<text x="477.30" y="323.40" font-size="8.8" fill="#231f20" text-anchor="end" transform="rotate(-45.00 477.30 323.40)" >3~7 d</text>
<text x="492.80" y="323.40" font-size="8.8" fill="#231f20" text-anchor="end" transform="rotate(-45.00 492.80 323.40)" >7~14 d</text>
<text x="508.40" y="323.40" font-size="8.8" fill="#231f20" text-anchor="end" transform="rotate(-45.00 508.40 323.40)" >14~21 d</text>
<text x="93.50" y="387.40" font-size="10.5" fill="#231f20" text-anchor="middle" textLength="112" lengthAdjust="spacingAndGlyphs" >Radiologic Improvements</text>
<text x="93.30" y="399.00" font-size="10.5" fill="#231f20" text-anchor="middle" textLength="42" lengthAdjust="spacingAndGlyphs" >after CCP</text>
<path d="M93.6,470.6 L143.10,470.60 A49.5,49.5 0 0 0 99.32,421.43 Z" fill="#a3002b"/>
<path d="M93.6,470.6 L99.32,421.43 A49.5,49.5 0 0 0 50.07,447.04 Z" fill="#de8c1b"/>
<path d="M93.6,470.6 L50.07,447.04 A49.5,49.5 0 0 0 73.72,515.93 Z" fill="#6ea83f"/>
<path d="M93.6,470.6 L73.72,515.93 A49.5,49.5 0 0 0 102.55,519.28 Z" fill="#6aaae3"/>
<path d="M93.6,470.6 L102.55,519.28 A49.5,49.5 0 0 0 108.90,517.68 Z" fill="#958bcb"/>
<path d="M93.6,470.6 L108.90,517.68 A49.5,49.5 0 0 0 111.97,516.56 Z" fill="#f2c012"/>
<path d="M93.6,470.6 L111.97,516.56 A49.5,49.5 0 0 0 143.10,470.60 Z" fill="#c8c6cc"/>
<line x1="130.19" y1="438.01" x2="132.58" y2="435.89" stroke="#333" stroke-width="1" />
<text x="135.72" y="436.71" font-size="8" fill="#ad2452" transform="rotate(-41.68 135.72 436.71)" textLength="28" lengthAdjust="spacingAndGlyphs" >0~3 d, RI</text>
<text x="115.68" y="454.95" font-size="8.8" fill="#111" text-anchor="middle" transform="rotate(-41.68 115.68 454.95)" textLength="29.8" lengthAdjust="spacingAndGlyphs" >22 (23.2%)</text>
<line x1="70.99" y1="427.13" x2="69.52" y2="424.29" stroke="#333" stroke-width="1" />
<text x="66.29" y="423.94" font-size="8" fill="#ad2452" text-anchor="end" transform="rotate(62.53 66.29 423.94)" textLength="27" lengthAdjust="spacingAndGlyphs" >3~7 d, RI</text>
<text x="77.79" y="446.70" font-size="8.8" fill="#111" text-anchor="middle" transform="rotate(62.53 77.79 446.70)" textLength="29.8" lengthAdjust="spacingAndGlyphs" >18 (18.9%)</text>
<line x1="47.25" y1="486.51" x2="44.23" y2="487.55" stroke="#333" stroke-width="1" />
<text x="43.40" y="490.69" font-size="8" fill="#ad2452" text-anchor="end" transform="rotate(-18.95 43.40 490.69)" textLength="32" lengthAdjust="spacingAndGlyphs" >7~10 d, RI</text>
<text x="71.31" y="481.43" font-size="8.8" fill="#111" text-anchor="middle" transform="rotate(-18.95 71.31 481.43)" textLength="29.8" lengthAdjust="spacingAndGlyphs" >25 (26.3%)</text>
<line x1="87.94" y1="519.27" x2="87.57" y2="522.45" stroke="#333" stroke-width="1" />
<text x="90.05" y="524.55" font-size="8" fill="#ad2452" text-anchor="end" transform="rotate(-83.37 90.05 524.55)" textLength="34" lengthAdjust="spacingAndGlyphs" >10~14 d, RI</text>
<text x="93.20" y="500.05" font-size="8.8" fill="#111" text-anchor="middle" transform="rotate(-83.37 93.20 500.05)" textLength="23" lengthAdjust="spacingAndGlyphs" >9 (9.5%)</text>
<line x1="105.63" y1="518.10" x2="106.41" y2="521.20" stroke="#333" stroke-width="1" />
<text x="105.44" y="523.61" font-size="8" fill="#ad2452" transform="rotate(-283.21 105.44 523.61)" textLength="34" lengthAdjust="spacingAndGlyphs" >14~21 d, RI</text>
<text x="99.19" y="504.88" font-size="8.8" fill="#111" text-anchor="middle" transform="rotate(-283.21 99.19 504.88)" textLength="23" lengthAdjust="spacingAndGlyphs" >2 (2.1%)</text>
<line x1="110.27" y1="516.68" x2="111.36" y2="519.68" stroke="#333" stroke-width="1" />
<text x="112.00" y="523.40" font-size="8" fill="#ad2452" transform="rotate(65.50 112.00 523.40)" textLength="27" lengthAdjust="spacingAndGlyphs" >&gt;21 d, RI</text>
<line x1="134.17" y1="498.08" x2="136.82" y2="499.87" stroke="#333" stroke-width="1" />
<text x="136.80" y="503.11" font-size="8" fill="#231f20" transform="rotate(-325.89 136.80 503.11)" textLength="35" lengthAdjust="spacingAndGlyphs" >&gt;21 d, no-RI</text>
<text x="112.62" y="487.10" font-size="8.8" fill="#111" text-anchor="middle" transform="rotate(-325.89 112.62 487.10)" textLength="29.8" lengthAdjust="spacingAndGlyphs" >18 (18.9%)</text>
<text x="271.25" y="387.40" font-size="10.5" fill="#231f20" text-anchor="middle" textLength="73" lengthAdjust="spacingAndGlyphs" >Decreased SCSS</text>
<text x="271.25" y="399.00" font-size="10.5" fill="#231f20" text-anchor="middle" textLength="42" lengthAdjust="spacingAndGlyphs" >after CCP</text>
<line x1="221.50" y1="405.50" x2="221.50" y2="523.00" stroke="#2a2a2a" stroke-width="1.3" />
<line x1="218.40" y1="520.70" x2="221.50" y2="520.70" stroke="#2a2a2a" stroke-width="1" />
<text x="216.10" y="522.60" font-size="8.7" fill="#231f20" text-anchor="end" >0</text>
<line x1="218.40" y1="498.18" x2="221.50" y2="498.18" stroke="#2a2a2a" stroke-width="1" />
<text x="216.10" y="500.08" font-size="8.7" fill="#231f20" text-anchor="end" >20</text>
<line x1="218.40" y1="475.66" x2="221.50" y2="475.66" stroke="#2a2a2a" stroke-width="1" />
<text x="216.10" y="477.56" font-size="8.7" fill="#231f20" text-anchor="end" >40</text>
<line x1="218.40" y1="453.14" x2="221.50" y2="453.14" stroke="#2a2a2a" stroke-width="1" />
<text x="216.10" y="455.04" font-size="8.7" fill="#231f20" text-anchor="end" >60</text>
<line x1="218.40" y1="430.62" x2="221.50" y2="430.62" stroke="#2a2a2a" stroke-width="1" />
<text x="216.10" y="432.52" font-size="8.7" fill="#231f20" text-anchor="end" >80</text>
<line x1="218.40" y1="408.10" x2="221.50" y2="408.10" stroke="#2a2a2a" stroke-width="1" />
<text x="216.10" y="410.00" font-size="8.7" fill="#231f20" text-anchor="end" >100</text>
<text x="196.80" y="464.40" font-size="10" fill="#231f20" text-anchor="middle" transform="rotate(-90.00 196.80 464.40)" textLength="51.5" lengthAdjust="spacingAndGlyphs" >Percentage (%)</text>
<rect x="228.20" y="408.10" width="21.80" height="112.60" fill="#a6002c"/>
<text x="239.10" y="416.40" font-size="7.8" fill="#fff" text-anchor="middle" textLength="16" lengthAdjust="spacingAndGlyphs" >100%</text>
<rect x="260.30" y="483.20" width="21.80" height="37.50" fill="#a6002c"/>
<text x="271.20" y="491.50" font-size="7.8" fill="#fff" text-anchor="middle" textLength="18" lengthAdjust="spacingAndGlyphs" >33.3%</text>
<rect x="260.30" y="445.60" width="21.80" height="37.61" fill="#2f4a8a"/>
<text x="271.20" y="453.90" font-size="7.8" fill="#fff" text-anchor="middle" textLength="18" lengthAdjust="spacingAndGlyphs" >33.3%</text>
<rect x="260.30" y="408.10" width="21.80" height="37.50" fill="#df8b1b"/>
<text x="271.20" y="416.40" font-size="7.8" fill="#fff" text-anchor="middle" textLength="18" lengthAdjust="spacingAndGlyphs" >33.3%</text>
<rect x="291.40" y="501.90" width="21.80" height="18.80" fill="#a6002c"/>
<text x="302.30" y="510.20" font-size="7.8" fill="#fff" text-anchor="middle" textLength="18" lengthAdjust="spacingAndGlyphs" >16.7%</text>
<rect x="291.40" y="439.40" width="21.80" height="62.49" fill="#69a93e"/>
<text x="302.30" y="447.70" font-size="7.8" fill="#fff" text-anchor="middle" textLength="18" lengthAdjust="spacingAndGlyphs" >55.6%</text>
<rect x="291.40" y="408.10" width="21.80" height="31.30" fill="#2f4a8a"/>
<text x="302.30" y="416.40" font-size="7.8" fill="#fff" text-anchor="middle" textLength="18" lengthAdjust="spacingAndGlyphs" >27.8%</text>
<text x="242.00" y="529.00" font-size="9" fill="#231f20" text-anchor="end" transform="rotate(-45.00 242.00 529.00)" textLength="27" lengthAdjust="spacingAndGlyphs" >SCSS=5</text>
<text x="274.10" y="529.00" font-size="9" fill="#231f20" text-anchor="end" transform="rotate(-45.00 274.10 529.00)" textLength="27" lengthAdjust="spacingAndGlyphs" >SCSS=4</text>
<text x="305.20" y="529.00" font-size="9" fill="#231f20" text-anchor="end" transform="rotate(-45.00 305.20 529.00)" textLength="27" lengthAdjust="spacingAndGlyphs" >SCSS=3</text>
<rect x="320.20" y="409.20" width="5.00" height="6.40" fill="#a6002c"/>
<text x="328.20" y="415.50" font-size="8.7" fill="#231f20" >0</text>
<rect x="320.20" y="419.60" width="5.00" height="6.40" fill="#69a93e"/>
<text x="328.20" y="425.90" font-size="8.7" fill="#231f20" >1</text>
<rect x="320.20" y="430.00" width="5.00" height="6.40" fill="#2f4a8a"/>
<text x="328.20" y="436.30" font-size="8.7" fill="#231f20" >2</text>
<rect x="320.20" y="440.40" width="5.00" height="6.40" fill="#df8b1b"/>
<text x="328.20" y="446.70" font-size="8.7" fill="#231f20" >3</text>
<text x="425.00" y="387.40" font-size="10.5" fill="#231f20" text-anchor="middle" textLength="66" lengthAdjust="spacingAndGlyphs" >Time to clinical</text>
<text x="424.90" y="399.00" font-size="10.5" fill="#231f20" text-anchor="middle" textLength="58.5" lengthAdjust="spacingAndGlyphs" >improvement</text>
<line x1="378.00" y1="409.70" x2="378.00" y2="514.00" stroke="#2a2a2a" stroke-width="1.3" />
<line x1="377.35" y1="514.00" x2="471.50" y2="514.00" stroke="#2a2a2a" stroke-width="1.3" />
<line x1="374.90" y1="427.80" x2="378.00" y2="427.80" stroke="#2a2a2a" stroke-width="1" />
<text x="371.00" y="429.70" font-size="8.7" fill="#231f20" text-anchor="end" >20</text>
<line x1="374.90" y1="452.00" x2="378.00" y2="452.00" stroke="#2a2a2a" stroke-width="1" />
<text x="371.00" y="453.90" font-size="8.7" fill="#231f20" text-anchor="end" >15</text>
<line x1="374.90" y1="476.30" x2="378.00" y2="476.30" stroke="#2a2a2a" stroke-width="1" />
<text x="371.00" y="478.20" font-size="8.7" fill="#231f20" text-anchor="end" >10</text>
<line x1="374.90" y1="500.40" x2="378.00" y2="500.40" stroke="#2a2a2a" stroke-width="1" />
<text x="371.00" y="502.30" font-size="8.7" fill="#231f20" text-anchor="end" >5</text>
<text x="356.20" y="461.50" font-size="9" fill="#231f20" text-anchor="middle" transform="rotate(-90.00 356.20 461.50)" textLength="17" lengthAdjust="spacingAndGlyphs" >Days</text>
<line x1="392.20" y1="427.80" x2="392.20" y2="505.10" stroke="#5a5a5a" stroke-width="0.9" stroke-dasharray="1.3,0.7"/>
<line x1="389.10" y1="427.80" x2="395.30" y2="427.80" stroke="#222" stroke-width="1.3" />
<line x1="389.10" y1="505.10" x2="395.30" y2="505.10" stroke="#222" stroke-width="1.3" />
<rect x="386.90" y="449.80" width="10.60" height="45.50" fill="#c3007b"/>
<line x1="386.90" y1="478.60" x2="397.50" y2="478.60" stroke="#111" stroke-width="1.5" />
<line x1="413.80" y1="413.50" x2="413.80" y2="509.50" stroke="#5a5a5a" stroke-width="0.9" stroke-dasharray="1.3,0.7"/>
<line x1="410.70" y1="413.50" x2="416.90" y2="413.50" stroke="#222" stroke-width="1.3" />
<line x1="410.70" y1="509.50" x2="416.90" y2="509.50" stroke="#222" stroke-width="1.3" />
<rect x="408.50" y="418.50" width="10.60" height="81.50" fill="#c3007b"/>
<line x1="408.50" y1="481.00" x2="419.10" y2="481.00" stroke="#111" stroke-width="1.5" />
<line x1="435.60" y1="413.50" x2="435.60" y2="509.50" stroke="#5a5a5a" stroke-width="0.9" stroke-dasharray="1.3,0.7"/>
<line x1="432.50" y1="413.50" x2="438.70" y2="413.50" stroke="#222" stroke-width="1.3" />
<line x1="432.50" y1="509.50" x2="438.70" y2="509.50" stroke="#222" stroke-width="1.3" />
<rect x="430.30" y="447.50" width="10.60" height="47.80" fill="#c3007b"/>
<line x1="430.30" y1="481.00" x2="440.90" y2="481.00" stroke="#111" stroke-width="1.5" />
<line x1="457.20" y1="418.30" x2="457.20" y2="456.40" stroke="#5a5a5a" stroke-width="0.9" stroke-dasharray="1.3,0.7"/>
<line x1="454.10" y1="418.30" x2="460.30" y2="418.30" stroke="#222" stroke-width="1.3" />
<line x1="454.10" y1="456.40" x2="460.30" y2="456.40" stroke="#222" stroke-width="1.3" />
<rect x="451.90" y="435.50" width="10.60" height="18.80" fill="#c3007b"/>
<line x1="451.90" y1="452.20" x2="462.50" y2="452.20" stroke="#111" stroke-width="1.5" />
<line x1="392.20" y1="514.00" x2="392.20" y2="516.80" stroke="#2a2a2a" stroke-width="1" />
<line x1="413.80" y1="514.00" x2="413.80" y2="516.80" stroke="#2a2a2a" stroke-width="1" />
<line x1="435.60" y1="514.00" x2="435.60" y2="516.80" stroke="#2a2a2a" stroke-width="1" />
<line x1="457.20" y1="514.00" x2="457.20" y2="516.80" stroke="#2a2a2a" stroke-width="1" />
<text x="395.10" y="524.20" font-size="9" fill="#231f20" text-anchor="end" transform="rotate(-45.00 395.10 524.20)" >1~4 w</text>
<text x="416.70" y="524.20" font-size="9" fill="#231f20" text-anchor="end" transform="rotate(-45.00 416.70 524.20)" >5~6 w</text>
<text x="438.50" y="524.20" font-size="9" fill="#231f20" text-anchor="end" transform="rotate(-45.00 438.50 524.20)" >7 w</text>
<text x="460.10" y="524.20" font-size="9" fill="#231f20" text-anchor="end" transform="rotate(-45.00 460.10 524.20)" >≥ 8 w</text>
<text x="425.00" y="552.30" font-size="10" fill="#231f20" text-anchor="middle" textLength="78" lengthAdjust="spacingAndGlyphs" >Interval between onset</text>
<text x="425.00" y="564.00" font-size="10" fill="#231f20" text-anchor="middle" textLength="28.8" lengthAdjust="spacingAndGlyphs" >and CCP</text>
<rect x="0" y="0" width="1.5" height="574" fill="#000"/>
<rect x="0" y="0" width="520" height="1.4" fill="#000"/>
<rect x="518.6" y="0" width="1.4" height="574" fill="#000"/>
<rect x="0" y="572.7" width="520" height="1.3" fill="#000"/>
</svg>
</body></html>
